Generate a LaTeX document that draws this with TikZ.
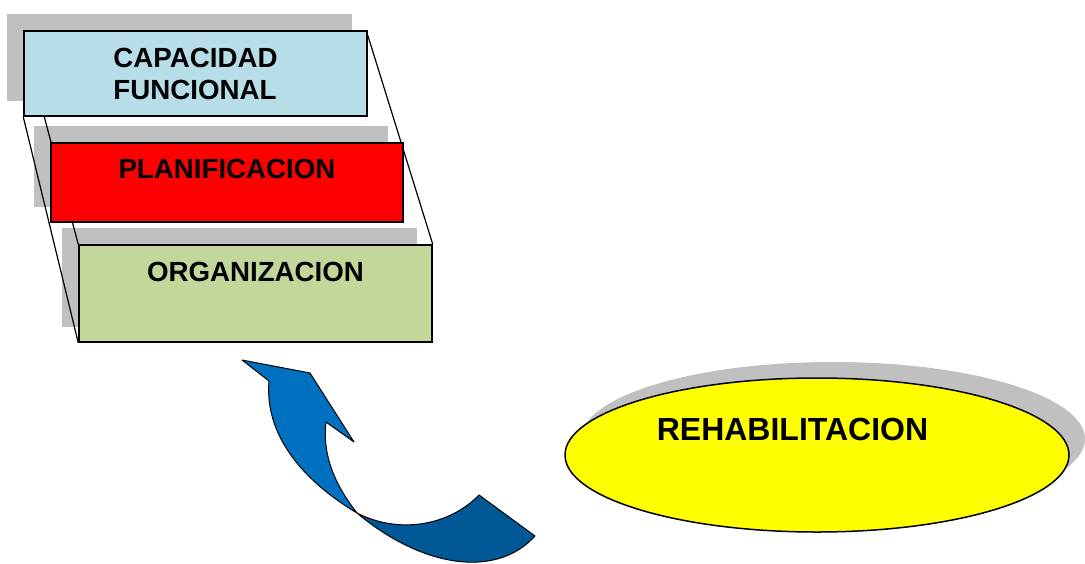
\documentclass[tikz,border=0pt]{standalone}
\usepackage{fontspec}
\setmainfont{Liberation Sans}
\usetikzlibrary{positioning,shapes.geometric}
\definecolor{capblue}{RGB}{183,222,232}
\definecolor{planred}{RGB}{255,0,0}
\definecolor{orggreen}{RGB}{196,215,155}
\definecolor{rehabyellow}{RGB}{255,255,0}
\definecolor{shadegray}{RGB}{192,192,192}
\definecolor{arrowlight}{RGB}{0,112,192}
\definecolor{arrowdark}{RGB}{0,88,150}
\pgfdeclarelayer{shadelayer}
\pgfdeclarelayer{backlayer}
\pgfsetlayers{shadelayer,backlayer,main}
\tikzset{
  box/.style={draw=black, line width=1.5pt, inner sep=0pt},
  txt/.style={inner sep=0pt, font=\bfseries\fontsize{27.7}{32}\selectfont},
  shadowbox/.style={fill=shadegray, draw=none},
  link/.style={draw=black, line width=1.2pt},
}
\begin{document}
\begin{tikzpicture}[x=1pt, y=-1pt]
      \useasboundingbox (0,0) rectangle (1085,563);
      %
      \node[box, txt, fill=capblue, minimum width=343pt, minimum height=85pt, align=left] (cap) at (195.5,73.5) {CAPACIDAD\\FUNCIONAL};
      \node[box, fill=planred, minimum width=352pt, minimum height=79pt] (plan) at (227,182.5) {};
      \node[txt, below=17pt of plan.north] (plantxt) {PLANIFICACION};
      \node[box, fill=orggreen, minimum width=353pt, minimum height=97pt] (org) at (255.5,293.5) {};
      \node[txt, below=18pt of org.north] (orgtxt) {ORGANIZACION};
      %
      \node[box, ellipse, fill=rehabyellow, minimum width=504pt, minimum height=154pt] (rehab) at (817,455) {};
      \node[txt, font=\bfseries\fontsize{32}{36}\selectfont] (rehabtxt) at (792.5,429) {REHABILITACION};
      %
      \begin{pgfonlayer}{shadelayer}
        \fill[shadowbox] ([shift={(-16,-16)}]cap.south west) rectangle ([shift={(-16,-16)}]cap.north east);
        \fill[shadowbox] ([shift={(-16,-16)}]plan.south west) rectangle ([shift={(-16,-16)}]plan.north east);
        \fill[shadowbox] ([shift={(-16,-16)}]org.south west) rectangle ([shift={(-16,-16)}]org.north east);
        \fill[shadowbox] ([shift={(16,-16)}]rehab.center) ellipse [x radius=252, y radius=77];
      \end{pgfonlayer}
      %
      \begin{pgfonlayer}{backlayer}
        \coordinate (capin) at ([xshift=21pt]cap.south west);
        \coordinate (capout) at ([yshift=-5pt]cap.north east);
        \draw[link] (cap.south west) -- (org.south west);
        \draw[link] (capin) -- (org.north west);
        \draw[link] (capout) -- (org.north east);
      \end{pgfonlayer}
      %
      \filldraw[fill=arrowdark, draw=black, line width=1pt, line join=round]
        (357,513) .. controls (420,566) and (495,580) .. (535,536)
        -- (479,495) .. controls (450,525) and (400,535) .. (357,513) -- cycle;
      \filldraw[fill=arrowlight, draw=black, line width=1pt, line join=round]
        (326,422) -- (354,442) -- (310,373) -- (242,360) -- (269,381)
        .. controls (264,440) and (310,485) .. (357,513)
        .. controls (335,485) and (322,455) .. (326,422) -- cycle;
      %
    \end{tikzpicture}
\end{document}
